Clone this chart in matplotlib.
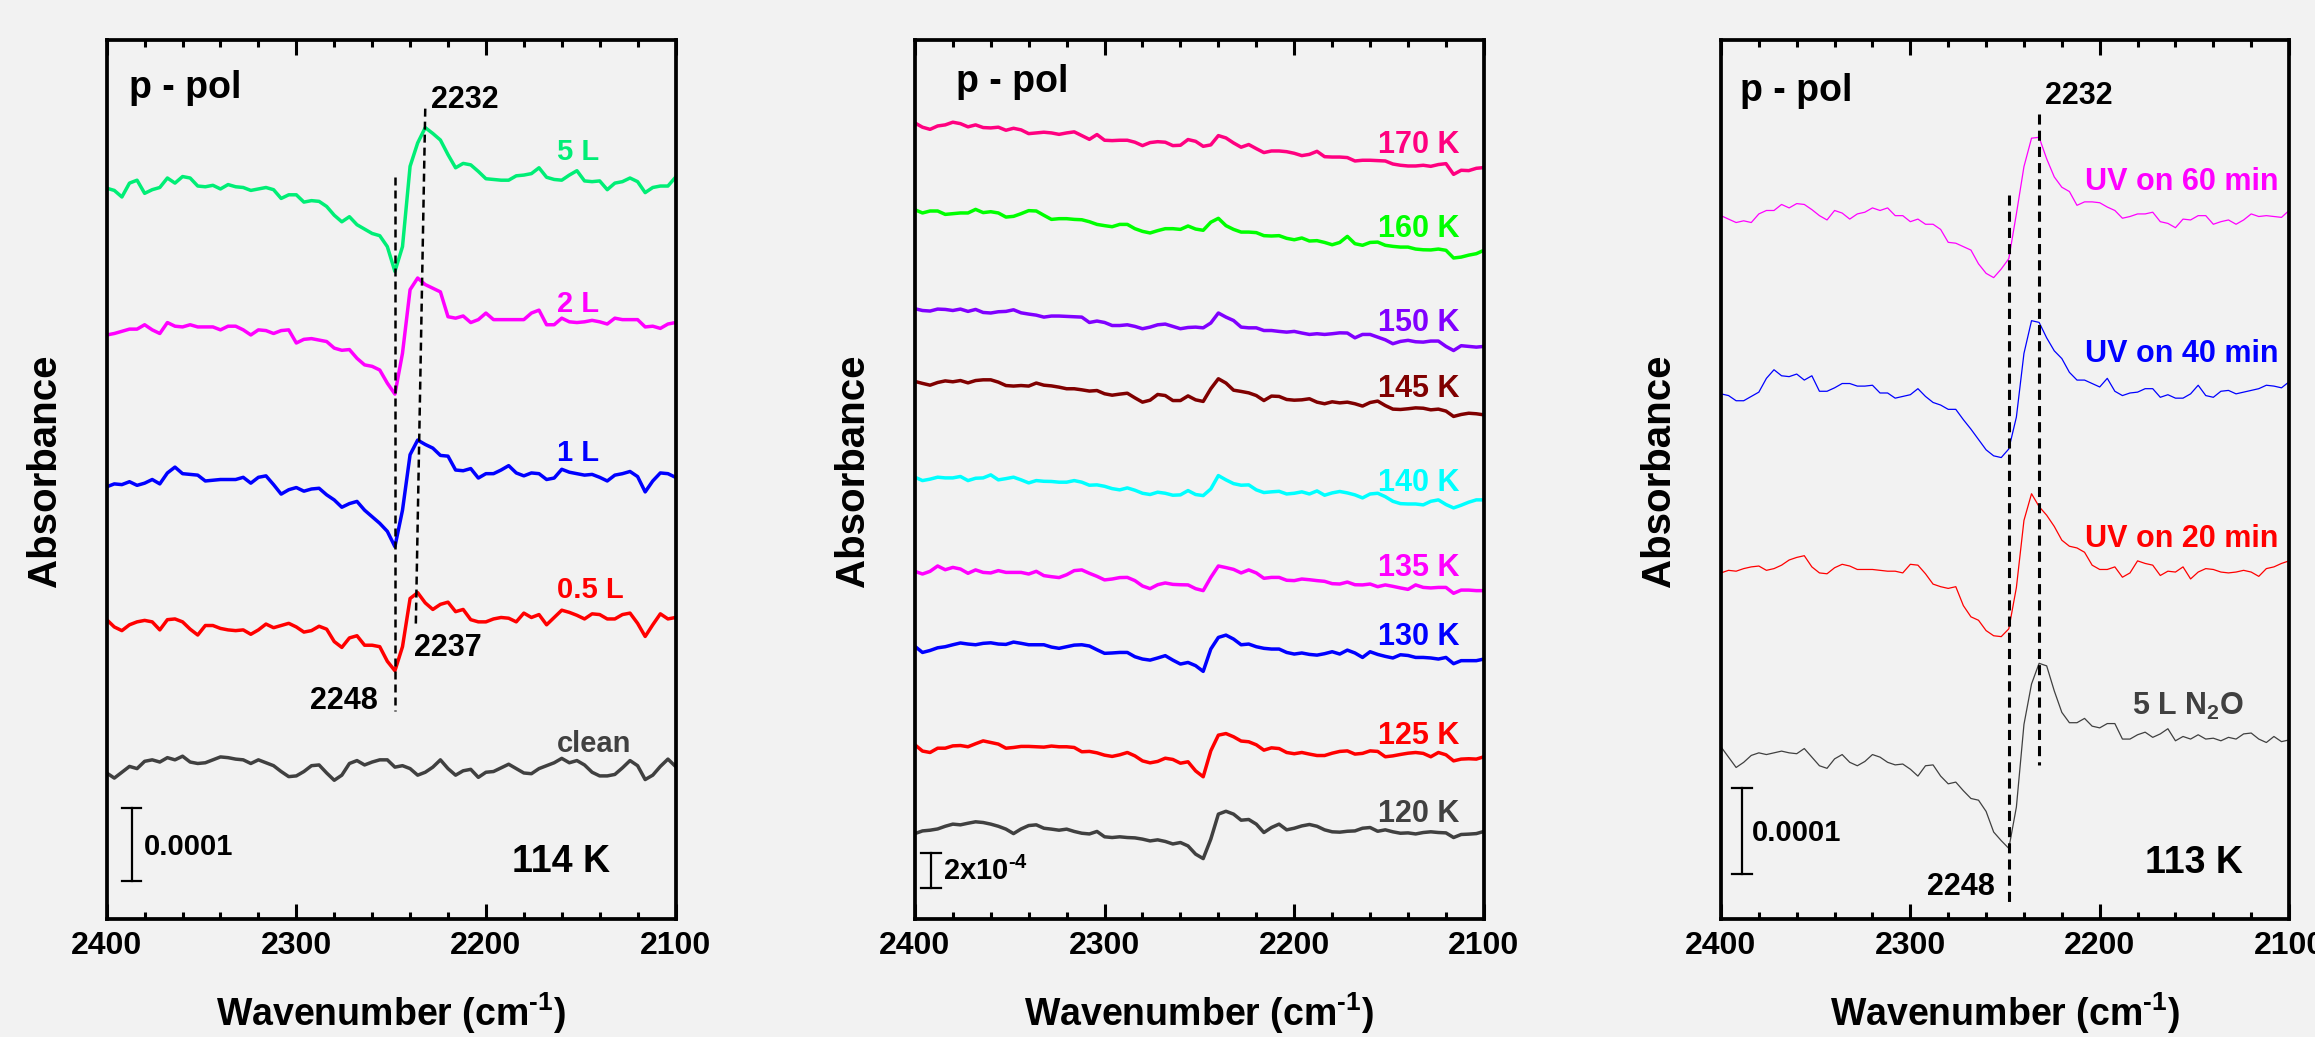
import numpy as np
import matplotlib
matplotlib.use("Agg")
import matplotlib.pyplot as plt
from matplotlib.ticker import MultipleLocator

plt.rcParams['font.family'] = ['Liberation Sans', 'DejaVu Sans']
plt.rcParams['font.weight'] = 'bold'
plt.rcParams['mathtext.fontset'] = 'custom'
plt.rcParams['mathtext.rm'] = 'Liberation Sans:bold'
plt.rcParams['mathtext.bf'] = 'Liberation Sans:bold'
plt.rcParams['mathtext.default'] = 'bf'

# wavenumber sampling, cm-1 (every 4 cm-1 from 2400 down to 2100)
wn = np.arange(2400, 2099, -4)

# panel 1: N2O dose at 114 K (absorbance in 1e-4, offset for display)
p1_5L = [10.01, 9.98, 9.89, 10.08, 10.12, 9.94, 9.99, 10.02, 10.15, 10.08,
         10.17, 10.15, 10.04, 10.03, 10.05, 10.00, 10.06, 10.03, 10.02, 9.98,
         10.00, 10.02, 9.99, 9.87, 9.92, 9.92, 9.82, 9.84, 9.83, 9.76,
         9.64, 9.55, 9.62, 9.51, 9.45, 9.39, 9.36, 9.21, 8.87, 9.21,
         10.31, 10.63, 10.84, 10.76, 10.67, 10.47, 10.29, 10.35, 10.33, 10.24,
         10.14, 10.13, 10.12, 10.12, 10.18, 10.19, 10.21, 10.29, 10.16, 10.13,
         10.12, 10.19, 10.25, 10.11, 10.10, 10.11, 9.99, 10.08, 10.10, 10.15,
         10.10, 9.95, 10.02, 10.04, 10.04, 10.16]
p1_2L = [8.00, 8.02, 8.05, 8.08, 8.08, 8.14, 8.07, 8.02, 8.17, 8.12,
         8.11, 8.14, 8.11, 8.11, 8.11, 8.07, 8.12, 8.12, 8.07, 8.00,
         8.07, 8.06, 8.02, 8.06, 8.07, 7.89, 7.94, 7.95, 7.93, 7.91,
         7.82, 7.79, 7.80, 7.68, 7.59, 7.57, 7.52, 7.34, 7.19, 7.75,
         8.62, 8.78, 8.69, 8.64, 8.59, 8.25, 8.23, 8.26, 8.17, 8.21,
         8.30, 8.21, 8.21, 8.21, 8.21, 8.21, 8.30, 8.34, 8.14, 8.14,
         8.23, 8.18, 8.17, 8.18, 8.20, 8.18, 8.15, 8.23, 8.21, 8.21,
         8.21, 8.11, 8.12, 8.09, 8.15, 8.17]
p1_1L = [5.92, 5.96, 5.95, 5.99, 5.94, 5.97, 6.02, 5.96, 6.11, 6.19,
         6.10, 6.09, 6.08, 6.00, 6.01, 6.02, 6.02, 6.02, 6.05, 5.97,
         6.05, 6.07, 5.95, 5.82, 5.88, 5.91, 5.86, 5.89, 5.90, 5.81,
         5.74, 5.64, 5.69, 5.72, 5.60, 5.51, 5.42, 5.31, 5.10, 5.60,
         6.36, 6.56, 6.50, 6.45, 6.35, 6.34, 6.15, 6.14, 6.17, 6.04,
         6.10, 6.10, 6.15, 6.21, 6.11, 6.07, 6.11, 6.10, 6.02, 6.04,
         6.16, 6.12, 6.10, 6.08, 6.09, 6.05, 6.00, 6.08, 6.10, 6.13,
         6.06, 5.85, 6.00, 6.11, 6.10, 6.05]
p1_05L = [4.10, 4.00, 3.95, 4.03, 4.07, 4.09, 4.07, 3.96, 4.10, 4.11,
          4.07, 3.97, 3.89, 4.02, 4.02, 3.98, 3.96, 3.95, 3.96, 3.90,
          3.96, 4.04, 3.99, 4.02, 4.05, 4.00, 3.93, 3.95, 4.01, 3.97,
          3.80, 3.72, 3.85, 3.88, 3.75, 3.75, 3.73, 3.53, 3.40, 3.73,
          4.39, 4.47, 4.33, 4.24, 4.31, 4.34, 4.21, 4.24, 4.10, 4.07,
          4.07, 4.11, 4.13, 4.12, 4.07, 4.19, 4.13, 4.17, 4.03, 4.13,
          4.23, 4.20, 4.16, 4.11, 4.18, 4.17, 4.11, 4.11, 4.17, 4.19,
          4.05, 3.87, 4.03, 4.18, 4.11, 4.13]
p1_clean = [2.00, 1.93, 2.01, 2.09, 2.06, 2.16, 2.18, 2.15, 2.21, 2.18,
            2.23, 2.15, 2.13, 2.14, 2.18, 2.22, 2.21, 2.19, 2.18, 2.13,
            2.18, 2.14, 2.10, 2.02, 1.95, 1.96, 2.02, 2.10, 2.11, 2.00,
            1.90, 1.97, 2.13, 2.17, 2.11, 2.15, 2.18, 2.18, 2.08, 2.10,
            2.06, 1.97, 2.01, 2.08, 2.18, 2.06, 1.97, 2.03, 2.05, 1.94,
            2.01, 2.02, 2.07, 2.12, 2.06, 2.00, 1.99, 2.06, 2.10, 2.14,
            2.20, 2.14, 2.17, 2.11, 2.01, 1.96, 1.96, 1.98, 2.07, 2.17,
            2.10, 1.91, 1.97, 2.09, 2.19, 2.09]
p1_labels = ['5 L', '2 L', '1 L', '0.5 L', 'clean']
p1_colors = ['#00ee76', '#ff00ff', '#0000ff', '#ff0000', '#404040']
p1_label_y = [10.51, 8.42, 6.38, 4.50, 2.40]

# panel 2: annealing temperatures
p2_170 = [44.56, 44.32, 44.20, 44.39, 44.45, 44.60, 44.52, 44.34, 44.45, 44.30,
          44.28, 44.32, 44.15, 44.26, 44.17, 43.96, 44.00, 44.04, 44.00, 43.92,
          44.00, 44.06, 43.85, 43.64, 43.91, 43.59, 43.57, 43.59, 43.59, 43.48,
          43.29, 43.46, 43.51, 43.48, 43.29, 43.31, 43.63, 43.53, 43.25, 43.33,
          43.85, 43.72, 43.44, 43.20, 43.35, 43.12, 42.90, 42.99, 42.99, 42.95,
          42.86, 42.73, 42.80, 42.97, 42.67, 42.65, 42.65, 42.62, 42.43, 42.47,
          42.47, 42.45, 42.43, 42.26, 42.19, 42.15, 42.15, 42.19, 42.13, 42.23,
          42.28, 41.68, 41.91, 41.89, 42.02, 42.06]
p2_160 = [39.70, 39.52, 39.63, 39.63, 39.44, 39.48, 39.52, 39.52, 39.72, 39.54,
          39.59, 39.52, 39.29, 39.33, 39.48, 39.65, 39.63, 39.39, 39.16, 39.20,
          39.20, 39.16, 39.14, 39.03, 38.88, 38.81, 38.75, 38.88, 38.88, 38.64,
          38.49, 38.40, 38.53, 38.64, 38.64, 38.60, 38.79, 38.62, 38.55, 39.00,
          39.22, 38.81, 38.60, 38.45, 38.45, 38.42, 38.25, 38.23, 38.25, 38.10,
          38.02, 38.12, 37.95, 37.97, 37.87, 37.74, 37.87, 38.21, 37.80, 37.71,
          37.87, 37.89, 37.71, 37.65, 37.61, 37.61, 37.50, 37.46, 37.45, 37.50,
          37.43, 37.00, 37.05, 37.16, 37.24, 37.43]
p2_150 = [34.16, 34.06, 34.03, 34.14, 34.12, 34.06, 34.14, 34.01, 34.12, 33.95,
          33.92, 33.99, 34.01, 34.10, 33.93, 33.86, 33.80, 33.69, 33.75, 33.75,
          33.73, 33.71, 33.69, 33.39, 33.47, 33.39, 33.22, 33.22, 33.26, 33.17,
          33.04, 33.13, 33.26, 33.30, 33.17, 33.04, 33.11, 33.13, 33.09, 33.36,
          33.92, 33.69, 33.50, 33.13, 33.09, 33.09, 32.94, 32.94, 32.89, 32.85,
          32.89, 32.80, 32.72, 32.76, 32.72, 32.76, 32.81, 32.80, 32.53, 32.72,
          32.72, 32.57, 32.42, 32.20, 32.33, 32.39, 32.31, 32.29, 32.35, 32.35,
          32.05, 31.82, 32.09, 32.05, 32.01, 32.05]
p2_145 = [30.09, 29.98, 29.88, 30.03, 30.12, 30.07, 30.14, 30.01, 30.14, 30.18,
          30.18, 30.05, 29.86, 29.83, 29.86, 29.83, 30.00, 29.88, 29.84, 29.77,
          29.68, 29.68, 29.62, 29.55, 29.58, 29.40, 29.32, 29.38, 29.43, 29.17,
          28.93, 29.04, 29.36, 29.30, 29.02, 29.02, 29.28, 29.06, 28.97, 29.68,
          30.24, 30.00, 29.60, 29.53, 29.45, 29.30, 29.02, 29.27, 29.25, 29.08,
          29.04, 29.06, 29.12, 28.93, 28.84, 28.95, 28.89, 28.93, 28.84, 28.71,
          28.91, 28.99, 28.74, 28.54, 28.52, 28.56, 28.61, 28.59, 28.50, 28.54,
          28.43, 28.13, 28.24, 28.31, 28.28, 28.22]
p2_140 = [24.73, 24.54, 24.62, 24.73, 24.69, 24.69, 24.77, 24.54, 24.67, 24.69,
          24.86, 24.58, 24.65, 24.73, 24.58, 24.41, 24.54, 24.50, 24.49, 24.45,
          24.45, 24.54, 24.45, 24.28, 24.30, 24.22, 24.09, 24.02, 24.13, 24.00,
          23.83, 23.76, 23.89, 23.83, 23.72, 23.74, 23.98, 23.76, 23.70, 24.07,
          24.82, 24.58, 24.37, 24.28, 24.30, 24.02, 23.87, 23.91, 23.94, 23.79,
          23.83, 23.91, 23.79, 23.96, 23.72, 23.85, 23.93, 23.85, 23.74, 23.57,
          23.79, 23.83, 23.64, 23.38, 23.25, 23.23, 23.23, 23.18, 23.38, 23.46,
          23.20, 23.01, 23.16, 23.33, 23.46, 23.46]
p2_135 = [19.46, 19.31, 19.46, 19.76, 19.55, 19.68, 19.59, 19.35, 19.54, 19.40,
          19.37, 19.50, 19.40, 19.40, 19.40, 19.31, 19.46, 19.22, 19.16, 19.11,
          19.27, 19.50, 19.54, 19.35, 19.18, 18.98, 19.03, 19.11, 19.12, 18.94,
          18.64, 18.49, 18.71, 18.81, 18.73, 18.71, 18.70, 18.49, 18.38, 19.12,
          19.76, 19.67, 19.57, 19.37, 19.54, 19.37, 19.07, 19.12, 19.12, 18.96,
          18.94, 19.03, 18.99, 18.94, 18.90, 18.77, 18.75, 18.86, 18.71, 18.70,
          18.75, 18.60, 18.70, 18.62, 18.53, 18.45, 18.70, 18.56, 18.53, 18.56,
          18.56, 18.23, 18.41, 18.41, 18.38, 18.38]
p2_130 = [15.26, 14.92, 15.03, 15.18, 15.24, 15.35, 15.45, 15.39, 15.35, 15.43,
          15.46, 15.39, 15.37, 15.50, 15.43, 15.35, 15.35, 15.35, 15.22, 15.15,
          15.24, 15.33, 15.35, 15.28, 15.07, 14.87, 14.89, 14.92, 14.92, 14.68,
          14.55, 14.49, 14.61, 14.74, 14.49, 14.27, 14.36, 14.18, 13.86, 15.11,
          15.76, 15.89, 15.67, 15.35, 15.39, 15.24, 15.15, 15.11, 15.11, 14.92,
          14.83, 14.89, 14.81, 14.77, 14.85, 14.96, 14.83, 15.05, 14.89, 14.64,
          14.96, 14.81, 14.70, 14.61, 14.79, 14.75, 14.64, 14.64, 14.61, 14.55,
          14.64, 14.29, 14.46, 14.46, 14.46, 14.55]
p2_125 = [9.75, 9.40, 9.32, 9.56, 9.56, 9.69, 9.71, 9.64, 9.81, 9.97,
          9.88, 9.79, 9.56, 9.60, 9.66, 9.66, 9.64, 9.62, 9.68, 9.64,
          9.64, 9.60, 9.36, 9.38, 9.30, 9.17, 9.10, 9.19, 9.32, 9.13,
          8.85, 8.74, 8.82, 9.00, 8.93, 8.72, 8.80, 8.29, 7.96, 9.41,
          10.29, 10.38, 10.20, 9.96, 9.92, 9.75, 9.45, 9.58, 9.54, 9.32,
          9.25, 9.32, 9.23, 9.15, 9.15, 9.28, 9.38, 9.41, 9.23, 9.27,
          9.41, 9.38, 9.08, 9.13, 9.21, 9.28, 9.32, 9.27, 9.08, 9.32,
          9.19, 8.85, 8.95, 8.97, 8.95, 9.08]
p2_120 = [4.78, 4.93, 4.97, 5.04, 5.19, 5.31, 5.27, 5.36, 5.44, 5.40,
          5.31, 5.19, 5.03, 4.78, 5.04, 5.23, 5.27, 5.08, 5.03, 4.97,
          5.03, 4.90, 4.80, 4.76, 4.90, 4.60, 4.56, 4.60, 4.56, 4.54,
          4.47, 4.37, 4.43, 4.34, 4.20, 4.28, 4.09, 3.63, 3.38, 4.47,
          5.87, 6.03, 5.87, 5.53, 5.57, 5.31, 4.84, 5.12, 5.31, 4.99,
          5.08, 5.21, 5.29, 5.19, 4.99, 4.88, 4.86, 4.91, 4.93, 5.08,
          5.12, 4.91, 4.99, 4.88, 4.80, 4.82, 4.76, 4.84, 4.88, 4.84,
          4.82, 4.56, 4.73, 4.75, 4.78, 4.90]
p2_labels = ['170 K', '160 K', '150 K', '145 K', '140 K', '135 K', '130 K', '125 K', '120 K']
p2_colors = ['#ff0080', '#00ff00', '#8000ff', '#800000', '#00ffff',
             '#ff00ff', '#0000ff', '#ff0000', '#404040']
p2_label_y = [43.35, 38.65, 33.34, 29.68, 24.38, 19.64, 15.79, 10.23, 5.85]

# panel 3: UV irradiation at 113 K
p3_60 = [8.17, 8.13, 8.09, 8.11, 8.09, 8.19, 8.23, 8.23, 8.30, 8.26,
         8.31, 8.30, 8.24, 8.17, 8.12, 8.23, 8.20, 8.13, 8.19, 8.21,
         8.26, 8.23, 8.26, 8.17, 8.17, 8.10, 8.13, 8.07, 8.07, 8.01,
         7.86, 7.85, 7.81, 7.77, 7.61, 7.50, 7.45, 7.55, 7.67, 8.19,
         8.74, 9.07, 9.08, 8.83, 8.62, 8.50, 8.45, 8.29, 8.33, 8.33,
         8.32, 8.27, 8.23, 8.14, 8.16, 8.19, 8.19, 8.21, 8.10, 8.08,
         8.03, 8.13, 8.12, 8.17, 8.17, 8.07, 8.10, 8.12, 8.07, 8.12,
         8.19, 8.16, 8.17, 8.16, 8.15, 8.23]
p3_40 = [6.10, 6.08, 6.02, 6.02, 6.07, 6.12, 6.28, 6.38, 6.31, 6.30,
         6.33, 6.26, 6.31, 6.13, 6.13, 6.17, 6.22, 6.22, 6.19, 6.19,
         6.20, 6.11, 6.11, 6.05, 6.07, 6.09, 6.16, 6.07, 6.00, 5.97,
         5.92, 5.92, 5.80, 5.69, 5.57, 5.45, 5.38, 5.36, 5.46, 5.83,
         6.57, 6.95, 6.93, 6.75, 6.60, 6.51, 6.35, 6.26, 6.26, 6.22,
         6.18, 6.28, 6.13, 6.08, 6.11, 6.12, 6.16, 6.16, 6.06, 6.09,
         6.05, 6.05, 6.10, 6.20, 6.08, 6.06, 6.13, 6.14, 6.10, 6.12,
         6.14, 6.16, 6.20, 6.19, 6.17, 6.24]
p3_20 = [4.02, 4.05, 4.04, 4.07, 4.09, 4.10, 4.05, 4.07, 4.11, 4.17,
         4.20, 4.22, 4.09, 4.02, 4.01, 4.08, 4.12, 4.10, 4.06, 4.06,
         4.06, 4.05, 4.04, 4.04, 4.02, 4.12, 4.11, 4.01, 3.89, 3.86,
         3.84, 3.86, 3.64, 3.51, 3.47, 3.35, 3.29, 3.28, 3.37, 3.85,
         4.63, 4.94, 4.79, 4.69, 4.56, 4.40, 4.33, 4.31, 4.26, 4.11,
         4.06, 4.06, 4.09, 3.97, 4.02, 4.16, 4.13, 4.11, 3.99, 4.04,
         4.03, 4.09, 3.95, 4.03, 4.07, 4.06, 4.03, 4.02, 4.03, 4.05,
         4.03, 3.98, 4.07, 4.09, 4.13, 4.16]
p3_n2o = [2.00, 1.88, 1.76, 1.82, 1.90, 1.93, 1.91, 1.93, 1.95, 1.93,
          1.92, 1.98, 1.88, 1.78, 1.75, 1.86, 1.91, 1.82, 1.78, 1.83,
          1.91, 1.88, 1.82, 1.79, 1.80, 1.74, 1.66, 1.78, 1.79, 1.66,
          1.57, 1.59, 1.49, 1.40, 1.38, 1.25, 1.01, 0.91, 0.82, 1.30,
          2.26, 2.73, 2.97, 2.94, 2.65, 2.40, 2.28, 2.28, 2.33, 2.24,
          2.22, 2.27, 2.27, 2.09, 2.09, 2.14, 2.17, 2.11, 2.15, 2.21,
          2.07, 2.12, 2.09, 2.14, 2.09, 2.10, 2.07, 2.11, 2.09, 2.15,
          2.16, 2.09, 2.05, 2.12, 2.06, 2.08]
p3_labels = ['UV on 60 min', 'UV on 40 min', 'UV on 20 min', '5 L N$_2$O']
p3_colors = ['#ff00ff', '#0000ff', '#ff0000', '#404040']
p3_label_y = [8.56, 6.56, 4.41, 2.47]

bg = '#f2f2f2'
fig = plt.figure(figsize=(23.15, 10.37), dpi=100, facecolor=bg)


def setup(ax, ymax):
    ax.set_facecolor(bg)
    ax.set_xlim(2400, 2100)
    ax.set_ylim(0, ymax)
    ax.set_xticks([2400, 2300, 2200, 2100])
    ax.xaxis.set_minor_locator(MultipleLocator(20))
    ax.tick_params(axis='x', which='both', direction='in', top=True, bottom=True,
                   width=2.2, labelsize=23, pad=9)
    ax.tick_params(axis='x', which='major', length=11)
    ax.tick_params(axis='x', which='minor', length=5)
    ax.set_yticks([])
    for s in ax.spines.values():
        s.set_linewidth(2.7)
    for lab in ax.get_xticklabels():
        lab.set_fontweight('bold')
    ax.set_xlabel(r'Wavenumber (cm$^{\text{-1}}$)', fontsize=27, fontweight='bold', labelpad=21)
    ax.set_ylabel('Absorbance', fontsize=29, fontweight='bold')
    ax.yaxis.set_label_coords(-0.075, 0.51)


def scalebar(ax, x, y0, y1, xc0, xc1, lw=1.6):
    ax.plot([x, x], [y0, y1], color='k', lw=lw)
    ax.plot([xc0, xc1], [y0, y0], color='k', lw=lw)
    ax.plot([xc0, xc1], [y1, y1], color='k', lw=lw)


# ---- panel 1
ax1 = fig.add_axes([0.0461, 0.1138, 0.2457, 0.8476])
setup(ax1, 12.04)
for ys, c in zip([p1_5L, p1_2L, p1_1L, p1_05L, p1_clean], p1_colors):
    ax1.plot(wn, ys, color=c, lw=2.5)
for lab, c, yl in zip(p1_labels, p1_colors, p1_label_y):
    ax1.text(2162.5, yl, lab, color=c, fontsize=21, fontweight='bold', va='center', ha='left')
ax1.plot([2248, 2248], [10.16, 2.85], color='k', lw=1.8, ls=(0, (3.2, 2.0)))
ax1.plot([2232, 2237], [11.10, 3.99], color='k', lw=1.8, ls=(0, (3.2, 2.0)))
ax1.text(2388.4, 11.25, 'p - pol', fontsize=27, fontweight='bold', va='baseline')
ax1.text(2228.9, 11.22, '2232', fontsize=22, fontweight='bold', va='center')
ax1.text(2237.8, 3.71, '2237', fontsize=22, fontweight='bold', va='center')
ax1.text(2292.7, 2.99, '2248', fontsize=22, fontweight='bold', va='center')
scalebar(ax1, 2386.7, 0.52, 1.52, 2392.1, 2381.7)
ax1.text(2380.5, 0.99, '0.0001', fontsize=21, fontweight='bold', va='center')
ax1.text(2186, 0.78, '114 K', fontsize=27, fontweight='bold', va='center')

# ---- panel 2
ax2 = fig.add_axes([0.3952, 0.1138, 0.2458, 0.8476])
setup(ax2, 49.2)
p2_all = [p2_170, p2_160, p2_150, p2_145, p2_140, p2_135, p2_130, p2_125, p2_120]
for ys, c in zip(p2_all, p2_colors):
    ax2.plot(wn, ys, color=c, lw=2.5)
for lab, c, yl in zip(p2_labels, p2_colors, p2_label_y):
    ax2.text(2112.8, yl, lab, color=c, fontsize=22, fontweight='bold', va='center', ha='right')
ax2.text(2378.5, 46.3, 'p - pol', fontsize=27, fontweight='bold', va='baseline')
scalebar(ax2, 2391.5, 1.72, 3.71, 2396.7, 2386.4)
ax2.text(2385, 2.69, r'2x10$^{\text{-4}}$', fontsize=21, fontweight='bold', va='center')

# ---- panel 3
ax3 = fig.add_axes([0.7434, 0.1138, 0.2454, 0.8476])
setup(ax3, 10.21)
for ys, c in zip([p3_60, p3_40, p3_20, p3_n2o], p3_colors):
    ax3.plot(wn, ys, color=c, lw=0.9)
for lab, c, yl in zip(p3_labels, p3_colors, p3_label_y):
    x0 = 2182.9 if 'N' in lab else 2208
    ax3.text(x0, yl, lab, color=c, fontsize=22, fontweight='bold', va='center', ha='left')
ax3.plot([2248, 2248], [8.41, 0.14], color='k', lw=2.2, ls=(0, (3.3, 2.0)))
ax3.plot([2232, 2232], [9.35, 1.79], color='k', lw=2.2, ls=(0, (3.3, 2.0)))
ax3.text(2390.1, 9.5, 'p - pol', fontsize=27, fontweight='bold', va='baseline')
ax3.text(2229.1, 9.56, '2232', fontsize=22, fontweight='bold', va='center')
ax3.text(2291.1, 0.37, '2248', fontsize=22, fontweight='bold', va='center')
scalebar(ax3, 2389, 0.52, 1.52, 2394.4, 2383.6)
ax3.text(2383.8, 1.00, '0.0001', fontsize=21, fontweight='bold', va='center')
ax3.text(2175.9, 0.65, '113 K', fontsize=27, fontweight='bold', va='center')

fig.savefig('out.png', dpi=100, facecolor=bg)
